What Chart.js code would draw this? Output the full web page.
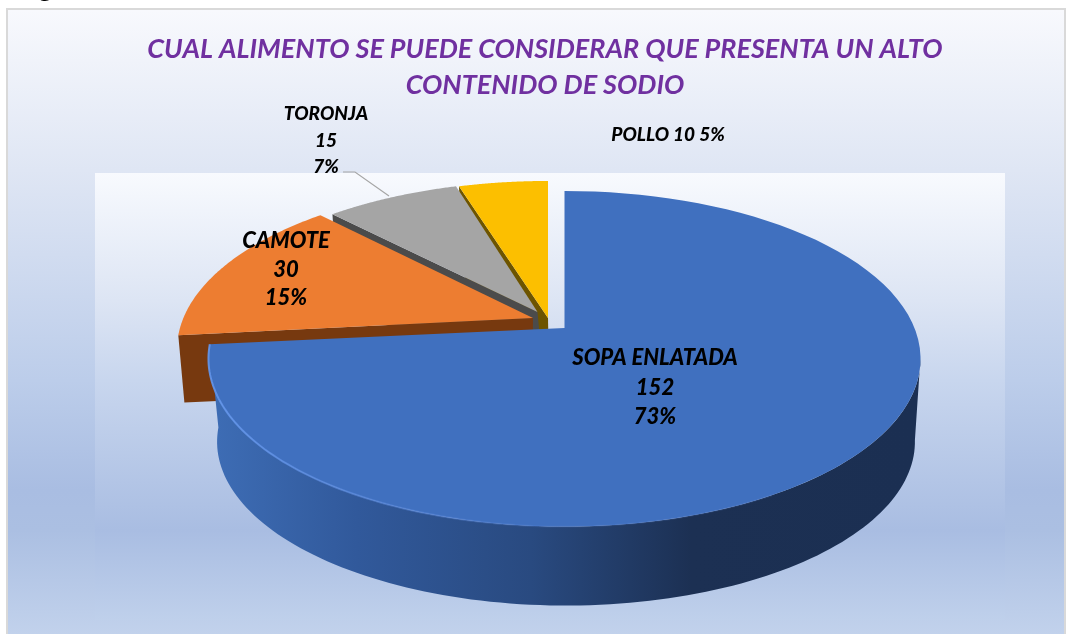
<!DOCTYPE html>
<html><head><meta charset="utf-8">
<style>
html,body{margin:0;padding:0;background:#fff;width:1068px;height:634px;overflow:hidden}
#card{position:absolute;left:6px;top:8px;width:1060px;height:640px;box-sizing:border-box;border:2px solid #d9d9d9;
background:linear-gradient(to bottom,#f8f9fd 0,#dfe6f4 160px,#bccdea 370px,#a9bde2 480px,#abbfe2 520px,#c2d2ec 626px)}
#panel{position:absolute;left:95px;top:173px;width:910px;height:447px;
background:linear-gradient(to bottom,#f8fafe 0,#dde5f4 127px,#c8d6ee 207px,#a9bde2 357px,#bfd0eb 447px)}
#wrap{position:absolute;left:0;top:0;width:1068px;height:634px}
</style>
<script src="https://cdn.jsdelivr.net/npm/chart.js@4"></script>
</head><body>
<div id="card"></div><div id="panel"></div>
<div id="wrap"><canvas id="c" width="1068" height="634"></canvas></div>
<script>
const titleLines = ["CUAL ALIMENTO SE PUEDE CONSIDERAR QUE PRESENTA UN ALTO","CONTENIDO DE SODIO"];
const categories = ["SOPA ENLATADA","CAMOTE","TORONJA","POLLO"];
const values = [152,30,15,10];
const percents = ["73%","15%","7%","5%"];
const colors = ["#4070bf","#ed7d31","#a5a5a5","#fcbf00"];
const wallColors = ["#2b4f8a","#77390f","#4b4b4b","#6d5400"];

// view (3D look) settings
const P = {cx:564.5,A:350,yc:328,p:-102,c:0.1834};
const shift = [[0,0],[-31.5,-9],[-19.5,-10],[-16.5,-10]];
const apexShift = [[0,0],[-31.5,-10],[-27,-16],[-16.5,-10]];
const lowerShift = [[0,0],[-34,-25],[-20,-9],[-16.5,-10]];
function project(th){
  const u=Math.sin(th),v=Math.cos(th),w=1+P.c*v;
  return [P.cx+P.A*u/w,(P.yc+P.p*v)/w];
}
function apex(){return [P.cx,P.yc];}
function lower(pt){return [566+(pt[0]-564.5)*0.98,442+(pt[1]-359)*0.976];}
function tr(pt,s){return [pt[0]+s[0],pt[1]+s[1]];}
function curve(a,b,n){const r=[];for(let i=0;i<=n;i++)r.push(project(a+(b-a)*i/n));return r;}
function poly(ctx,pts,fill){ctx.beginPath();pts.forEach((q,i)=>i?ctx.lineTo(q[0],q[1]):ctx.moveTo(q[0],q[1]));ctx.closePath();ctx.fillStyle=fill;ctx.fill();}

const pie3d={
  id:'pie3d',
  beforeDatasetsDraw(chart){
    const ctx=chart.ctx, arcs=chart.getDatasetMeta(0).data;
    ctx.save();
    // back slices, last to first, then the large front slice
    for(let i=arcs.length-1;i>=0;i--){
      const el=arcs[i];
      const a=el.startAngle+Math.PI/2,b=el.endAngle+Math.PI/2;
      const s=shift[i],ls=lowerShift[i],as=apexShift[i];
      const top=curve(a,b,90);
      if(i>0){
        // cut face along the slice's first edge
        const o=project(a),ap=apex();
        poly(ctx,[tr(ap,as),tr(o,s),tr(lower(o),ls),tr(lower(ap),ls)],wallColors[i]);
      }else{
        const from=100*Math.PI/180,to=b;
        const front=curve(from,to,120);
        const g=ctx.createLinearGradient(217,0,915,0);
        g.addColorStop(0,"#3d6cb4");g.addColorStop(0.2,"#31599b");g.addColorStop(0.45,"#294a80");g.addColorStop(0.68,"#1c3053");g.addColorStop(1,"#1b2f52");
        poly(ctx,front.concat(front.slice().reverse().map(lower)),g);
      }
      poly(ctx,[tr(apex(),as)].concat(top.map(q=>tr(q,s))),colors[i]);
      if(i===0){
        // rim highlight
        const rim=curve(150*Math.PI/180,b,100);
        ctx.beginPath();rim.forEach((q,k)=>k?ctx.lineTo(q[0],q[1]):ctx.moveTo(q[0],q[1]));
        const hg=ctx.createLinearGradient(210,0,560,0);
        hg.addColorStop(0,"rgba(100,150,235,.9)");hg.addColorStop(1,"rgba(90,135,220,.15)");
        ctx.strokeStyle=hg;ctx.lineWidth=2;ctx.stroke();
      }
    }
    ctx.restore();
    return false;
  },
  afterDraw(chart){
    const ctx=chart.ctx;
    ctx.save();
    ctx.fillStyle="#000";ctx.textAlign="left";ctx.textBaseline="alphabetic";
    ctx.font="900 26px Lato";ctx.fillText("Figura",17,-3);
    ctx.textAlign="center";ctx.textBaseline="middle";
    ctx.font="italic 900 22px Lato";
    [categories[0],String(values[0]),percents[0]].forEach((t,i)=>ctx.fillText(t,655,358+i*29.5));
    [categories[1],String(values[1]),percents[1]].forEach((t,i)=>ctx.fillText(t,286,241+i*28.5));
    ctx.font="italic 900 19px Lato";
    [categories[2],String(values[2]),percents[2]].forEach((t,i)=>ctx.fillText(t,326,114+i*26.5));
    ctx.fillText(categories[3]+" "+values[3]+" "+percents[3],668,135);
    ctx.beginPath();ctx.moveTo(343,172);ctx.lineTo(355,172);ctx.lineTo(389,196);
    ctx.strokeStyle="#a6a6a6";ctx.lineWidth=1.2;ctx.stroke();
    ctx.restore();
  }
};

new Chart(document.getElementById('c'),{
  type:'pie',
  data:{labels:categories,datasets:[{data:values,backgroundColor:colors,borderWidth:0}]},
  options:{
    responsive:false,animation:false,
    layout:{padding:{left:22,top:31}},
    plugins:{
      legend:{display:false},tooltip:{enabled:false},
      title:{display:true,text:titleLines,color:"#7030a0",
        font:{family:"Lato",size:27,style:"italic",weight:"700",lineHeight:1.33},padding:0}
    }
  },
  plugins:[pie3d]
});
</script>
</body></html>
